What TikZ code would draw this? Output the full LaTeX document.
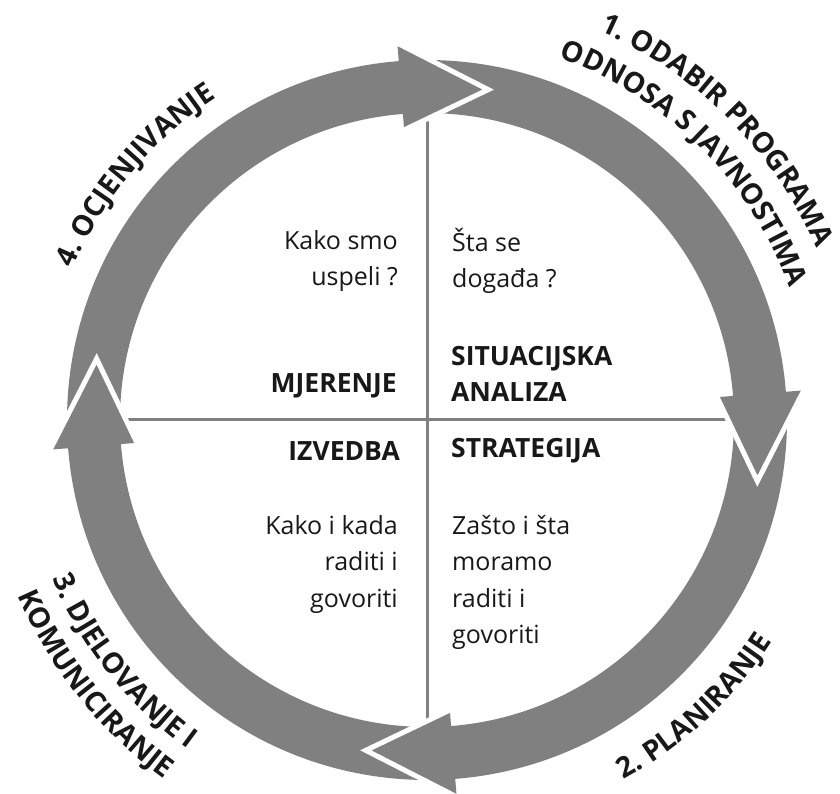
\documentclass[tikz,border=0pt]{standalone}
\usepackage{fontspec}
\setmainfont{Open Sans}
\usetikzlibrary{decorations.text,calc}
\definecolor{ringgray}{RGB}{128,128,128}
\definecolor{ink}{RGB}{24,24,24}
\newcommand{\bodyfnt}{\fontsize{25}{36}\selectfont}
\newcommand{\headfnt}{\fontsize{26.5}{36}\selectfont\bfseries}
\newcommand{\arcfnt}{\fontsize{28.5}{34}\selectfont\bfseries}
\begin{document}
\begin{tikzpicture}[x=1pt,y=1pt,
  body/.style={font=\bodyfnt, text=ink, inner sep=0pt},
  headtxt/.style={font=\headfnt, text=ink, inner sep=0pt},
  axisline/.style={draw=ringgray, line width=3pt},
  bandfill/.style={fill=ringgray},
  gapline/.style={draw=white, line width=5pt, line join=miter},
  arclabel/.style={decorate, decoration={text along path, text align=center, text color=ink}}]
\useasboundingbox (-427,-374) rectangle (413,420);
\coordinate (O) at (0,0);
\coordinate (lt) at (0,310);
\coordinate (lb) at (0,-310);
\coordinate (ll) at (-310,0);
\coordinate (lr) at (310,0);
\draw[axisline] (lt) -- (lb);
\draw[axisline] (ll) -- (lr);
% ring segments
\foreach \k in {0,1,2,3}{
  \begin{scope}[rotate=-90*\k]
    \path[bandfill] (89.47:360) arc[start angle=89.47, end angle=4.5, radius=360]
      -- (4.5:378) -- (-10.5:336) -- (4.5:291) -- (4.5:307)
      arc[start angle=4.5, end angle=87.77, radius=307]
      -- (79.5:336) -- cycle;
  \end{scope}
}
\foreach \k in {0,1,2,3}{
  \begin{scope}[rotate=-90*\k]
    \coordinate (tip\k) at (79.5:336);
    \coordinate (fo\k) at (94.5:378);
    \coordinate (fi\k) at (94.5:291);
    \draw[gapline] ($(tip\k)!1.08!(fo\k)$) -- (tip\k) -- ($(tip\k)!1.08!(fi\k)$);
  \end{scope}
}
% curved labels
\path[arclabel, decoration={text={|\arcfnt|4. OCJENJIVANJE}}]
  (175:385) arc[start angle=175, end angle=105, radius=385];
\path[arclabel, decoration={text={|\arcfnt|1. ODABIR PROGRAMA}}]
  (85:426) arc[start angle=85, end angle=5, radius=426];
\path[arclabel, decoration={text={|\arcfnt|ODNOSA S JAVNOSTIMA}}]
  (85:386) arc[start angle=85, end angle=5, radius=386];
\path[arclabel, decoration={text={|\arcfnt|2. PLANIRANJE}}]
  (-80:410) arc[start angle=-80, end angle=-14, radius=410];
\path[arclabel, decoration={text={|\arcfnt|3. DJELOVANJE I}}]
  (-175:407) arc[start angle=-175, end angle=-108, radius=407];
\path[arclabel, decoration={text={|\arcfnt|KOMUNICIRANJE}}]
  (-175:445) arc[start angle=-175, end angle=-108, radius=445];
% quadrant texts
\node[body, anchor=base east] (ka1) at (-29,170) {Kako smo};
\node[body, anchor=base east] (ka2) at (-29,134) {uspeli ?};
\node[body, anchor=base west] (st1) at (25,168) {Šta se};
\node[body, anchor=base west] (st2) at (25,132) {događa ?};
\node[headtxt, anchor=base east] (mj) at (-30,27) {MJERENJE};
\node[headtxt, anchor=base west] (si1) at (24,54) {SITUACIJSKA};
\node[headtxt, anchor=base west] (si2) at (24,18) {ANALIZA};
\node[headtxt, anchor=base east] (iz) at (-27,-41) {IZVEDBA};
\node[headtxt, anchor=base west] (str) at (24,-38) {STRATEGIJA};
\node[body, anchor=base west] (za1) at (25,-115) {Zašto i šta};
\node[body, anchor=base west] (za2) at (25,-151) {moramo};
\node[body, anchor=base west] (za3) at (25,-187) {raditi i};
\node[body, anchor=base west] (za4) at (25,-223) {govoriti};
\node[body, anchor=base east] (kk1) at (-29,-115) {Kako i kada};
\node[body, anchor=base east] (kk2) at (-29,-151) {raditi i};
\node[body, anchor=base east] (kk3) at (-29,-187) {govoriti};
\end{tikzpicture}
\end{document}
